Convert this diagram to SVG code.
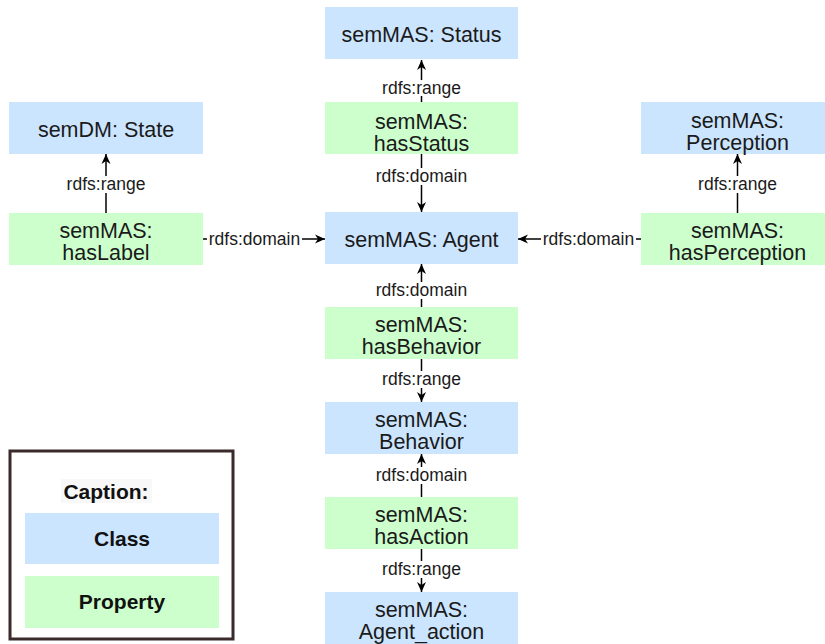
<svg xmlns="http://www.w3.org/2000/svg" width="825" height="644" viewBox="0 0 825 644">
<defs>
<marker id="arr" markerWidth="12" markerHeight="12" refX="10" refY="6" orient="auto" markerUnits="userSpaceOnUse">
<path d="M0,1.5 L10,6 L0,10.5 L3,6 z" fill="#000"/>
</marker>
<style>
.cls{fill:#cce5ff;}
.prop{fill:#ccffcc;}
.nt{font-family:"Liberation Sans",Arial,sans-serif;font-size:21.5px;fill:#1a1a1a;text-anchor:middle;}
.lt{font-family:"Liberation Sans",Arial,sans-serif;font-size:17.5px;fill:#1a1a1a;text-anchor:middle;}
.lbg{fill:#fff;}
.e{stroke:#000;stroke-width:1.5;fill:none;marker-end:url(#arr);}
.ct{font-family:"Liberation Sans",Arial,sans-serif;font-size:21px;font-weight:bold;fill:#111;text-anchor:middle;}
</style>
</defs>
<rect width="825" height="644" fill="#fff"/>

<g id="connectors">
<line class="e" x1="421.5" y1="102" x2="421.5" y2="60"/>
<line class="e" x1="421.5" y1="154" x2="421.5" y2="212"/>
<line class="e" x1="106" y1="213" x2="106" y2="154"/>
<line class="e" x1="203" y1="239" x2="325" y2="239"/>
<line class="e" x1="737.5" y1="213" x2="737.5" y2="154"/>
<line class="e" x1="641" y1="239" x2="518" y2="239"/>
<line class="e" x1="421.5" y1="307" x2="421.5" y2="264"/>
<line class="e" x1="421.5" y1="359" x2="421.5" y2="402"/>
<line class="e" x1="421.5" y1="497" x2="421.5" y2="454"/>
<line class="e" x1="421.5" y1="549" x2="421.5" y2="592"/>

<rect class="lbg" x="379" y="80" width="85" height="16"/>
<text class="lt" x="421.5" y="94">rdfs:range</text>
<rect class="lbg" x="374" y="168" width="95" height="17"/>
<text class="lt" x="421.5" y="182">rdfs:domain</text>
<rect class="lbg" x="64" y="176" width="84" height="17"/>
<text class="lt" x="106" y="190">rdfs:range</text>
<rect class="lbg" x="207" y="231" width="95" height="17"/>
<text class="lt" x="254.5" y="245">rdfs:domain</text>
<rect class="lbg" x="696" y="176" width="84" height="17"/>
<text class="lt" x="737.5" y="190">rdfs:range</text>
<rect class="lbg" x="541" y="231" width="95" height="17"/>
<text class="lt" x="588.5" y="245">rdfs:domain</text>
<rect class="lbg" x="374" y="282" width="95" height="17"/>
<text class="lt" x="421.5" y="296">rdfs:domain</text>
<rect class="lbg" x="379" y="371" width="85" height="17"/>
<text class="lt" x="421.5" y="385">rdfs:range</text>
<rect class="lbg" x="374" y="467" width="95" height="17"/>
<text class="lt" x="421.5" y="481">rdfs:domain</text>
<rect class="lbg" x="379" y="561" width="85" height="17"/>
<text class="lt" x="421.5" y="575">rdfs:range</text>
</g>

<g id="status">
<rect class="cls" x="325" y="7" width="193" height="52"/>
<text class="nt" x="421.5" y="42">semMAS: Status</text>
</g>
<g id="hasStatus">
<rect class="prop" x="325" y="102" width="193" height="52"/>
<text class="nt" x="421.5" y="129">semMAS:</text>
<text class="nt" x="421.5" y="151">hasStatus</text>
</g>
<g id="state">
<rect class="cls" x="9" y="102" width="194" height="52"/>
<text class="nt" x="106" y="137">semDM: State</text>
</g>
<g id="hasLabel">
<rect class="prop" x="9" y="213" width="194" height="52"/>
<text class="nt" x="106" y="238">semMAS:</text>
<text class="nt" x="106" y="260">hasLabel</text>
</g>
<g id="perception">
<rect class="cls" x="641" y="102" width="193" height="52"/>
<text class="nt" x="737.5" y="128">semMAS:</text>
<text class="nt" x="737.5" y="150">Perception</text>
</g>
<g id="hasPerception">
<rect class="prop" x="641" y="213" width="193" height="52"/>
<text class="nt" x="737.5" y="238">semMAS:</text>
<text class="nt" x="737.5" y="260">hasPerception</text>
</g>
<g id="agent">
<rect class="cls" x="325" y="212" width="193" height="52"/>
<text class="nt" x="421.5" y="247">semMAS: Agent</text>
</g>
<g id="hasBehavior">
<rect class="prop" x="325" y="307" width="193" height="52"/>
<text class="nt" x="421.5" y="332">semMAS:</text>
<text class="nt" x="421.5" y="354">hasBehavior</text>
</g>
<g id="behavior">
<rect class="cls" x="325" y="402" width="193" height="52"/>
<text class="nt" x="421.5" y="427">semMAS:</text>
<text class="nt" x="421.5" y="449">Behavior</text>
</g>
<g id="hasAction">
<rect class="prop" x="325" y="497" width="193" height="52"/>
<text class="nt" x="421.5" y="522">semMAS:</text>
<text class="nt" x="421.5" y="544">hasAction</text>
</g>
<g id="agentAction">
<rect class="cls" x="325" y="592" width="193" height="52"/>
<text class="nt" x="421.5" y="617">semMAS:</text>
<text class="nt" x="421.5" y="639">Agent_action</text>
</g>

<g id="caption">
<rect x="10" y="451" width="223" height="188" fill="#fff" stroke="#3a2a2a" stroke-width="3"/>
<rect x="61" y="479" width="91" height="24" fill="#f8f8f8"/>
<text class="ct" x="106" y="499">Caption:</text>
<rect class="cls" x="25" y="513" width="194" height="51"/>
<text class="ct" x="122" y="546">Class</text>
<rect class="prop" x="25" y="576" width="194" height="52"/>
<text class="ct" x="122" y="609">Property</text>
</g>
</svg>
